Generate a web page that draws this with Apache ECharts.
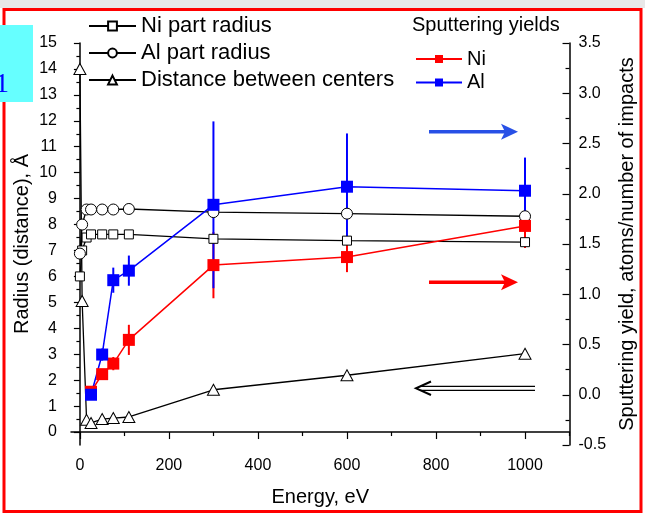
<!DOCTYPE html>
<html>
<head>
<meta charset="utf-8">
<script src="https://cdn.jsdelivr.net/npm/echarts@6/dist/echarts.min.js"></script>
<style>
  html, body { margin: 0; padding: 0; background: #fff; }
  #chart { width: 645px; height: 515px; }
</style>
</head>
<body>
<div id="chart"></div>
<script>
// Energies (eV) for the cluster geometry curves
const energy = [0, 5, 15, 25, 50, 75, 110, 300, 600, 1000]
const niRadius = [6.0, 7.0, 7.5, 7.62, 7.62, 7.62, 7.62, 7.45, 7.38, 7.32]
const alRadius = [6.88, 8.0, 8.58, 8.58, 8.58, 8.58, 8.6, 8.48, 8.42, 8.32]
const distance = [14.0, 5.05, 0.47, 0.35, 0.5, 0.54, 0.58, 1.63, 2.19, 3.02]

// Sputtering yields (right axis), with error half-widths
const yieldEnergy = [25, 50, 75, 110, 300, 600, 1000]
const niYield = [0.03, 0.205, 0.31, 0.546, 1.29, 1.37, 1.68]
const niYieldErr = [0, 0.02, 0.066, 0.15, 0.33, 0.15, 0.22]
const alYield = [0.0, 0.40, 1.14, 1.235, 1.89, 2.07, 2.03]
const alYieldErr = [0, 0.06, 0.125, 0.15, 0.83, 0.53, 0.33]

// Tick positions
const xMajor = [0, 200, 400, 600, 800, 1000]
const xMinor = [100, 300, 500, 700, 900, 1100]
const yMajor = [0, 1, 2, 3, 4, 5, 6, 7, 8, 9, 10, 11, 12, 13, 14, 15]
const yMinor = [0.5, 1.5, 2.5, 3.5, 4.5, 5.5, 6.5, 7.5, 8.5, 9.5, 10.5, 11.5, 12.5, 13.5, 14.5]

const FONT = "Liberation Sans"
const BLUE = "#0000ff"
const RED = "#ff0000"

const chart = echarts.init(document.getElementById("chart"), null, { renderer: "canvas" })

const pairs = (xs, ys) => xs.map((x, i) => [x, ys[i]])

function errorBars(name, ys, errs, color) {
  return {
    type: "custom",
    name,
    yAxisIndex: 2,
    data: yieldEnergy.map((x, i) => [x, ys[i], errs[i]]),
    encode: { x: 0, y: 1 },
    renderItem(params, api) {
      const x = api.value(0), y = api.value(1), e = api.value(2)
      if (!e) return
      const hi = api.coord([x, y + e])
      const lo = api.coord([x, y - e])
      return {
        type: "line",
        shape: { x1: hi[0], y1: hi[1], x2: lo[0], y2: lo[1] },
        style: { stroke: color, lineWidth: 2 }
      }
    }
  }
}

const openMarker = { color: "#fff", borderColor: "#000", borderWidth: 1 }
const blackLine = { color: "#000", width: 1.3 }
const axisFont = { fontFamily: FONT, fontSize: 16, color: "#000" }
const nameFont = { fontFamily: FONT, fontSize: 20, color: "#000" }

function arrow(y, color) {
  return [
    { type: "line", shape: { x1: 429, y1: y, x2: 508, y2: y }, style: { stroke: color, lineWidth: 3.5 } },
    { type: "polygon", shape: { points: [[518, y], [501, y - 8], [505, y], [501, y + 8]] }, style: { fill: color } }
  ]
}

chart.setOption({
  animation: false,
  backgroundColor: "#fff",
  grid: { left: 71, right: 74, top: 43, bottom: 70, containLabel: false },
  xAxis: [
    {
      type: "value", min: -20, max: 1100, position: "bottom",
      name: "Energy, eV", nameLocation: "middle", nameGap: 42, nameTextStyle: nameFont,
      axisLine: { lineStyle: { color: "#000", width: 1.5 } },
      axisTick: { customValues: xMajor, length: 7, lineStyle: { color: "#000", width: 1.2 } },
      axisLabel: { customValues: xMajor, margin: 13, formatter: v => String(v), ...axisFont },
      splitLine: { show: false }
    },
    {
      type: "value", min: -20, max: 1100, position: "bottom", offset: 0,
      axisLine: { show: false },
      axisTick: { customValues: xMinor, length: 4, lineStyle: { color: "#000", width: 1.2 } },
      axisLabel: { show: false },
      splitLine: { show: false }
    }
  ],
  yAxis: [
    {
      type: "value", min: -0.5, max: 15, position: "left",
      name: "Radius (distance), Å", nameLocation: "middle", nameRotate: 90, nameGap: 39,
      nameMoveOverlap: false, nameTextStyle: nameFont,
      axisLine: { show: true, lineStyle: { color: "#000", width: 1.5 } },
      axisTick: { customValues: yMajor, length: 6, lineStyle: { color: "#000", width: 1.2 } },
      axisLabel: { customValues: yMajor, margin: 14, formatter: v => String(v), ...axisFont },
      splitLine: { show: false }
    },
    {
      type: "value", min: -0.5, max: 15, position: "left", offset: 0,
      axisLine: { show: false },
      axisTick: { customValues: yMinor, length: 3.5, lineStyle: { color: "#000", width: 1.2 } },
      axisLabel: { show: false },
      splitLine: { show: false }
    },
    {
      type: "value", min: -0.5, max: 3.5, interval: 0.5, position: "right",
      name: "Sputtering yield, atoms/number of impacts", nameLocation: "middle", nameRotate: 90, nameGap: 42,
      nameTextStyle: nameFont,
      axisLine: { show: true, lineStyle: { color: "#000", width: 1.5 } },
      axisTick: { inside: true, length: 7, lineStyle: { color: "#000", width: 1.2 } },
      minorTick: { show: true, splitNumber: 2, length: 4, lineStyle: { color: "#000", width: 1.2 } },
      axisLabel: { margin: 9, formatter: v => v.toFixed(1), ...axisFont },
      splitLine: { show: false },
      minorSplitLine: { show: false }
    }
  ],
  legend: [
    {
      data: ["Ni part radius", "Al part radius", "Distance between centers"],
      orient: "vertical", left: 83, top: 10,
      itemWidth: 47, itemHeight: 11, itemGap: 5, selectedMode: false,
      textStyle: { fontFamily: FONT, fontSize: 22, lineHeight: 22, color: "#000" }
    },
    {
      data: ["Ni", "Al"],
      orient: "vertical", left: 410, top: 44,
      itemWidth: 46, itemHeight: 10, itemGap: 3.5, selectedMode: false,
      textStyle: { fontFamily: FONT, fontSize: 20, lineHeight: 20, color: "#000" }
    }
  ],
  graphic: [
    { type: "rect", shape: { x: 0, y: 0, width: 645, height: 8 }, style: { fill: "#e8e8e8" }, z: -1 },
    { type: "rect", shape: { x: 4, y: 9.5, width: 637, height: 502 }, style: { fill: null, stroke: RED, lineWidth: 3 } },
    { type: "rect", shape: { x: 0, y: 25, width: 33, height: 77 }, style: { fill: "#66ffff" } },
    { type: "text", x: 9, y: 85, style: { text: "1", fill: "#0000ff", font: "28px 'Liberation Serif'", textAlign: "right", textVerticalAlign: "middle" } },
    { type: "text", x: 412, y: 25, style: { text: "Sputtering yields", fill: "#000", font: `20px '${FONT}'`, textVerticalAlign: "middle" } },
    ...arrow(131.7, "#2850e6"),
    ...arrow(282.3, RED),
    { type: "line", shape: { x1: 420, y1: 386.3, x2: 535, y2: 386.3 }, style: { stroke: "#000", lineWidth: 1.2 } },
    { type: "line", shape: { x1: 420, y1: 390.3, x2: 535, y2: 390.3 }, style: { stroke: "#000", lineWidth: 1.2 } },
    { type: "polyline", shape: { points: [[431, 381.5], [416, 388.3], [431, 395]] }, style: { stroke: "#000", lineWidth: 2, fill: null } }
  ],
  series: [
    {
      name: "Ni part radius", type: "line", yAxisIndex: 0,
      data: pairs(energy, niRadius),
      symbol: "rect", symbolSize: 9, itemStyle: openMarker, lineStyle: blackLine
    },
    {
      name: "Al part radius", type: "line", yAxisIndex: 0,
      data: pairs(energy, alRadius),
      symbol: "circle", symbolSize: 11, itemStyle: openMarker, lineStyle: blackLine
    },
    {
      name: "Distance between centers", type: "line", yAxisIndex: 0,
      data: pairs(energy, distance),
      symbol: "triangle", symbolSize: [12, 11], itemStyle: openMarker, lineStyle: blackLine
    },
    errorBars("Ni err", niYield, niYieldErr, RED),
    {
      name: "Ni", type: "line", yAxisIndex: 2,
      data: pairs(yieldEnergy, niYield),
      symbol: "rect", symbolSize: 12, itemStyle: { color: RED }, lineStyle: { color: RED, width: 1.5 }
    },
    errorBars("Al err", alYield, alYieldErr, BLUE),
    {
      name: "Al", type: "line", yAxisIndex: 2,
      data: pairs(yieldEnergy, alYield),
      symbol: "rect", symbolSize: 12, itemStyle: { color: BLUE }, lineStyle: { color: BLUE, width: 1.5 }
    }
  ]
})
</script>
</body>
</html>
